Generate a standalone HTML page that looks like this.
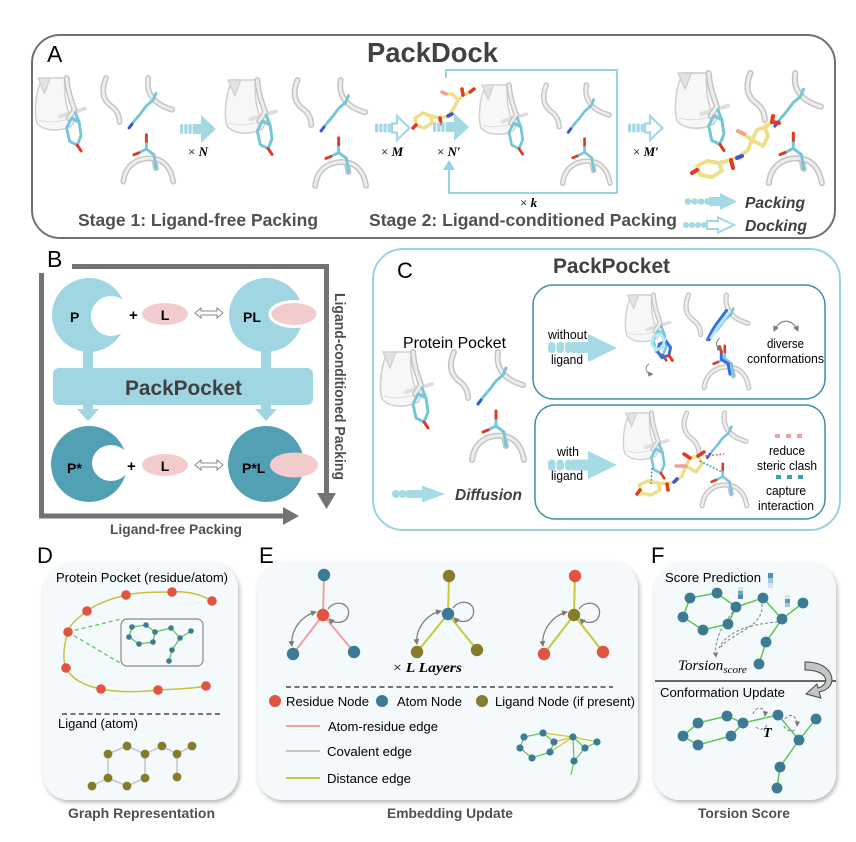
<!DOCTYPE html>
<html><head><meta charset="utf-8">
<style>
html,body{margin:0;padding:0;background:#fff;}
svg{display:block;}
text{font-family:"Liberation Sans",Arial,sans-serif;}
.b{font-weight:bold;}
.ser{font-family:"Liberation Serif",serif;}
</style></head><body>
<svg width="856" height="842" viewBox="0 0 856 842" xmlns="http://www.w3.org/2000/svg">
<defs>
 <filter id="sh" x="-10%" y="-10%" width="125%" height="125%"><feDropShadow dx="1.5" dy="2.5" stdDeviation="2" flood-color="#000" flood-opacity="0.28"/></filter>
 <marker id="ah" viewBox="0 0 6 6" refX="5" refY="3" markerWidth="5" markerHeight="5" orient="auto-start-reverse"><path d="M0,0 L6,3 L0,6 Z" fill="#7a7a7a"/></marker>
 <g id="tubes">
  <path d="M33,0 C34,14 38,24 41,33 L35,42"/>
  <path d="M74,0 C69,12 70,22 79,29 C86,34 88,40 88,46"/>
  <path d="M118,0 C115,18 126,28 143,33"/>
  <path d="M92,108 C94,90 108,82 124,84 C136,86 142,96 144,108"/>
  <path d="M124,84 L126,94"/>
 </g>
 <g id="pk">
  <path d="M8,0 C0,14 -1,36 2,47 C10,56 26,56 38,50 L42,42 C34,40 30,24 31,0 Z" fill="#f7f7f7" stroke="#d0d0d0" stroke-width="1.6"/>
  <path d="M3,0 L10,16 L16,0 Z" fill="#e2e2e2" stroke="#cdcdcd" stroke-width="1.2"/>
  <path d="M4,44 C14,47 26,46 36,42" fill="none" stroke="#dcdcdc" stroke-width="1"/>
  <path d="M26,40 L52,32" fill="none" stroke="#dedede" stroke-width="4" stroke-linecap="round"/>
  <use href="#tubes" fill="none" stroke="#c4c4c4" stroke-width="6" stroke-linecap="round"/>
  <use href="#tubes" fill="none" stroke="#ededed" stroke-width="3" stroke-linecap="round"/>
 </g>
 <g id="sc" fill="none" stroke-linecap="round" stroke-linejoin="round">
  <polygon points="38,42 46,46 48,60 44,70 36,66 33,52" stroke="#76c6d8" stroke-width="3"/>
  <line x1="46" y1="46" x2="42" y2="36" stroke="#76c6d8" stroke-width="3"/>
  <line x1="44" y1="70" x2="48" y2="76" stroke="#e03a22" stroke-width="3"/>
  <polyline points="98,52 104,44 110,37 116,29 123,23 126,16" stroke="#76c6d8" stroke-width="3"/>
  <line x1="98" y1="52" x2="101" y2="48" stroke="#3656e0" stroke-width="3"/>
  <polyline points="126,94 124,80 116,74 116,66" stroke="#76c6d8" stroke-width="3"/>
  <line x1="116" y1="66" x2="116" y2="59" stroke="#e03a22" stroke-width="3"/>
  <line x1="116" y1="74" x2="108" y2="78" stroke="#76c6d8" stroke-width="3"/>
  <line x1="108" y1="78" x2="103" y2="80" stroke="#e03a22" stroke-width="3"/>
 </g>
 <g id="pa" fill="#a3d8e4">
  <rect x="0" y="10" width="3.3" height="10" rx="1.6"/>
  <rect x="4.2" y="10" width="3.3" height="10" rx="1.6"/>
  <rect x="8.4" y="10" width="3.3" height="10" rx="1.6"/>
  <rect x="12.6" y="10" width="3.3" height="10" rx="1.6"/>
  <rect x="15.5" y="10" width="6.5" height="10"/>
  <path d="M21,1 L36,15 L21,29 Z"/>
 </g>
 <g id="da">
  <g fill="#a3d8e4">
  <rect x="0" y="10.5" width="3.3" height="9" rx="1.6"/>
  <rect x="4.2" y="10.5" width="3.3" height="9" rx="1.6"/>
  <rect x="8.4" y="10.5" width="3.3" height="9" rx="1.6"/>
  <rect x="12.6" y="10.5" width="3.3" height="9" rx="1.6"/>
  </g>
  <path d="M17,10.5 H22 V3 L34.5,15 L22,27 V19.5 H17 Z" fill="#fff" stroke="#a3d8e4" stroke-width="2.2"/>
 </g>
</defs>

<rect width="856" height="842" fill="#fff"/>

<!-- ================= PANEL A ================= -->
<rect x="32" y="35" width="803" height="203" rx="28" fill="#fff" stroke="#707070" stroke-width="2"/>
<text x="47" y="62" font-size="23">A</text>
<text x="367" y="62" font-size="28" class="b" fill="#414141" textLength="131" lengthAdjust="spacingAndGlyphs">PackDock</text>

<g transform="translate(35,78) scale(0.96)"><use href="#pk"/><use href="#sc"/></g>
<use href="#pa" transform="translate(180,114)"/>
<text x="188" y="156" font-size="13" class="ser">× <tspan font-weight="bold" font-style="italic">N</tspan></text>

<g transform="translate(225,80) scale(0.98)"><use href="#pk"/><use href="#sc"/></g>
<use href="#da" transform="translate(375,113)"/>
<text x="381" y="156" font-size="13" class="ser">× <tspan font-weight="bold" font-style="italic">M</tspan></text>

<!-- free ligand in A -->
<g fill="none" stroke-linecap="round" stroke-linejoin="round" stroke-width="3.5">
 <polygon points="415,118 423,113 431,116 432,123 424,128 416,125" stroke="#f0df8a"/>
 <polyline points="431,116 440,118 448,116 454,108 458,100 463,95" stroke="#f0df8a"/>
 <polyline points="458,100 452,94 446,94" stroke="#f0df8a"/>
 <line x1="463" y1="95" x2="470" y2="92" stroke="#f0df8a"/>
 <line x1="470" y1="92" x2="474" y2="89" stroke="#e03a22"/>
 <line x1="463" y1="95" x2="462" y2="89" stroke="#e03a22"/>
 <line x1="446" y1="94" x2="442" y2="92" stroke="#f2a090"/>
 <line x1="448" y1="116" x2="452" y2="114" stroke="#3656e0"/>
 <line x1="416" y1="125" x2="413" y2="128" stroke="#e03a22"/>
 <line x1="440" y1="118" x2="441" y2="124" stroke="#e03a22"/>
</g>

<use href="#pa" transform="translate(433,112)"/>
<text x="437" y="156" font-size="13" class="ser">× <tspan font-weight="bold" font-style="italic">N′</tspan></text>

<!-- feedback loop -->
<g fill="none" stroke="#9ad4e2" stroke-width="2">
 <polyline points="446,78 446,70 617,70 617,193 449,193 449,168"/>
</g>
<path d="M443,170 L449,160 L455,170 Z" fill="#9ad4e2"/>
<text x="520" y="207" font-size="13" class="ser">× <tspan font-weight="bold" font-style="italic">k</tspan></text>

<g transform="translate(479,85) scale(0.91)"><use href="#pk"/><use href="#sc"/></g>
<use href="#da" transform="translate(628,113)"/>
<text x="633" y="156" font-size="13" class="ser">× <tspan font-weight="bold" font-style="italic">M′</tspan></text>

<g transform="translate(675,73) scale(1.02)"><use href="#pk"/><use href="#sc"/></g>
<!-- docked ligand -->
<g fill="none" stroke-linecap="round" stroke-linejoin="round" stroke-width="4">
 <polygon points="697,166 707,161 719,163 722,171 712,177 700,175" stroke="#f0df8a"/>
 <polyline points="719,163 731,160 740,156 748,150 752,140 757,130 765,127 768,136 763,146 752,140" stroke="#f0df8a"/>
 <polyline points="765,127 772,122" stroke="#f0df8a"/>
 <line x1="772" y1="122" x2="779" y2="123" stroke="#e03a22"/>
 <line x1="772" y1="122" x2="773" y2="116" stroke="#e03a22"/>
 <polyline points="752,140 744,134" stroke="#f0df8a"/>
 <line x1="744" y1="134" x2="738" y2="131" stroke="#f2a090"/>
 <line x1="731" y1="160" x2="733" y2="168" stroke="#e03a22"/>
 <line x1="737" y1="158" x2="742" y2="156" stroke="#3656e0"/>
 <line x1="697" y1="170" x2="692" y2="173" stroke="#e03a22"/>
</g>

<!-- legend -->
<g fill="#a3d8e4">
 <circle cx="688" cy="201.5" r="3.3"/><circle cx="694.5" cy="201.5" r="3.3"/><circle cx="701" cy="201.5" r="3.3"/><circle cx="707.5" cy="201.5" r="3.3"/>
 <rect x="709" y="197" width="13" height="9"/>
 <path d="M720,193 L737,201.5 L720,210 Z"/>
 <circle cx="686" cy="225" r="3"/><circle cx="692" cy="225" r="3"/><circle cx="698" cy="225" r="3"/><circle cx="704" cy="225" r="3"/>
</g>
<path d="M707,221 H718 V217.5 L734,225 L718,232.5 V229 H707 Z" fill="#fff" stroke="#a3d8e4" stroke-width="2"/>
<text x="745" y="208" font-size="16" class="b" font-style="italic" fill="#404040" textLength="60" lengthAdjust="spacingAndGlyphs">Packing</text>
<text x="745" y="231" font-size="16" class="b" font-style="italic" fill="#404040" textLength="62" lengthAdjust="spacingAndGlyphs">Docking</text>

<text x="78" y="226" font-size="17.5" class="b" fill="#505050" textLength="240" lengthAdjust="spacingAndGlyphs">Stage 1: Ligand-free Packing</text>
<text x="369" y="226" font-size="17.5" class="b" fill="#505050" textLength="308" lengthAdjust="spacingAndGlyphs">Stage 2: Ligand-conditioned Packing</text>

<!-- ================= PANEL B ================= -->
<text x="47" y="267" font-size="23">B</text>
<g stroke="#767272" stroke-width="5" fill="none">
 <polyline points="72,266.5 326.5,266.5 326.5,495"/>
 <polyline points="41.5,273 41.5,516 285,516"/>
</g>
<path d="M317,493 L336,493 L326.5,509 Z" fill="#767272"/>
<path d="M283,507 L283,525 L299,516 Z" fill="#767272"/>
<text transform="translate(335,293) rotate(90)" font-size="14.5" class="b" fill="#505050" textLength="187" lengthAdjust="spacingAndGlyphs">Ligand-conditioned Packing</text>
<text x="110" y="534" font-size="14" class="b" fill="#505050" textLength="132" lengthAdjust="spacingAndGlyphs">Ligand-free Packing</text>

<!-- top row -->
<circle cx="89" cy="315" r="37" fill="#a0d6e2"/>
<circle cx="111" cy="316" r="20" fill="#fff"/>
<text x="70" y="322" font-size="14" class="b">P</text>
<text x="129" y="320" font-size="15" class="b">+</text>
<ellipse cx="165" cy="314" rx="23" ry="11" fill="#f2cccc"/>
<text x="165" y="320" font-size="14" class="b" text-anchor="middle">L</text>
<path d="M195,313 L201,308 L201,311 L217,311 L217,308 L223,313 L217,318 L217,315 L201,315 L201,318 Z" fill="#fff" stroke="#666" stroke-width="0.8"/>
<circle cx="266" cy="315" r="37" fill="#a0d6e2"/>
<ellipse cx="294" cy="314" rx="24" ry="12.5" fill="#f2cccc" stroke="#fff" stroke-width="3"/>
<text x="243" y="322" font-size="14" class="b">PL</text>

<!-- PackPocket bar -->
<rect x="83" y="349" width="10" height="20" fill="#a0d6e2"/>
<rect x="261" y="349" width="10" height="20" fill="#a0d6e2"/>
<rect x="53" y="368" width="260" height="37" rx="6" fill="#a0d6e2"/>
<text x="125" y="395" font-size="21" class="b" fill="#404040" textLength="117" lengthAdjust="spacingAndGlyphs">PackPocket</text>
<rect x="83" y="404" width="10" height="6" fill="#a0d6e2"/>
<rect x="261" y="404" width="10" height="6" fill="#a0d6e2"/>
<path d="M77,409 L99,409 L88,421 Z" fill="#a0d6e2"/>
<path d="M255,409 L277,409 L266,421 Z" fill="#a0d6e2"/>

<!-- bottom row -->
<circle cx="89" cy="464" r="38" fill="#52a0b4"/>
<ellipse cx="111" cy="463" rx="19" ry="18" fill="#fff"/>
<text x="67" y="473" font-size="14" class="b">P*</text>
<text x="127" y="471" font-size="15" class="b">+</text>
<ellipse cx="165" cy="465" rx="23" ry="11" fill="#f2cccc"/>
<text x="165" y="471" font-size="14" class="b" text-anchor="middle">L</text>
<path d="M195,465 L201,460 L201,463 L217,463 L217,460 L223,465 L217,470 L217,467 L201,467 L201,470 Z" fill="#fff" stroke="#666" stroke-width="0.8"/>
<circle cx="266" cy="464" r="38" fill="#52a0b4"/>
<ellipse cx="294" cy="465" rx="24" ry="12.5" fill="#f2cccc"/>
<text x="242" y="473" font-size="14" class="b">P*L</text>

<!-- ================= PANEL C ================= -->
<rect x="373" y="249" width="467" height="281" rx="30" fill="#fff" stroke="#9ad3e0" stroke-width="2"/>
<text x="397" y="278" font-size="22">C</text>
<text x="553" y="273" font-size="21" class="b" fill="#404040" textLength="117" lengthAdjust="spacingAndGlyphs">PackPocket</text>
<text x="403" y="348" font-size="16" textLength="103" lengthAdjust="spacingAndGlyphs">Protein Pocket</text>
<g transform="translate(380,352) scale(1.0)"><use href="#pk"/><use href="#sc"/></g>

<!-- diffusion legend -->
<g fill="#a6dbe6">
 <circle cx="396" cy="494" r="4"/><circle cx="402.5" cy="494" r="4"/><circle cx="409" cy="494" r="4"/>
 <rect x="410" y="490" width="14" height="8"/>
 <path d="M422,485.5 L445,494 L422,502.5 Z"/>
</g>
<text x="455" y="500" font-size="16" class="b" font-style="italic" fill="#404040" textLength="67" lengthAdjust="spacingAndGlyphs">Diffusion</text>

<!-- inner box 1 -->
<rect x="533" y="285" width="292" height="114" rx="20" fill="#fff" stroke="#3f8fa5" stroke-width="1.5"/>
<g fill="#a6dbe6">
 <rect x="548" y="342" width="7.5" height="11" rx="3.5"/><rect x="556.5" y="342" width="7.5" height="11" rx="3.5"/><rect x="565" y="342" width="7.5" height="11" rx="3.5"/>
 <rect x="572" y="342" width="18" height="11"/>
 <path d="M588,334 L617,348 L588,362 Z"/>
</g>
<text x="548" y="339" font-size="13" textLength="39" lengthAdjust="spacingAndGlyphs">without</text>
<text x="551" y="364" font-size="13" textLength="32" lengthAdjust="spacingAndGlyphs">ligand</text>
<g transform="translate(625,295) scale(0.86)">
 <use href="#pk"/><use href="#sc"/>
 <g fill="none" stroke-linecap="round" stroke-linejoin="round" stroke-width="3.5">
  <polygon points="40,57 48,54 53,61 51,70 43,73 38,66" stroke="#3a6ee0"/>
  <line x1="51" y1="70" x2="55" y2="76" stroke="#e03a22"/>
  <polygon points="33,48 41,45 46,52 44,61 36,64 31,57" stroke="#b0ecf6"/>
  <polyline points="96,52 101,42 106,34 112,26 118,18" stroke="#3a6ee0"/>
  <polyline points="100,50 106,40 112,32 118,24" stroke="#b0ecf6"/>
  <polyline points="122,92 120,80 112,75 112,66" stroke="#3a6ee0"/>
  <line x1="112" y1="66" x2="110" y2="60" stroke="#e03a22"/>
 </g>
 <path d="M28,80 C22,84 24,92 32,92" fill="none" stroke="#888" stroke-width="1.2" marker-end="url(#ah)"/>
 <path d="M110,50 C104,56 106,62 112,62" fill="none" stroke="#888" stroke-width="1.2" marker-end="url(#ah)"/>
</g>
<path d="M774,331 C780,318 792,318 798,331" fill="none" stroke="#888" stroke-width="1.2" marker-start="url(#ah)" marker-end="url(#ah)"/>
<text x="767" y="348" font-size="12.5" textLength="37" lengthAdjust="spacingAndGlyphs">diverse</text>
<text x="747" y="363" font-size="12.5" textLength="77" lengthAdjust="spacingAndGlyphs">conformations</text>

<!-- inner box 2 -->
<rect x="535" y="405" width="290" height="114" rx="20" fill="#fff" stroke="#3f8fa5" stroke-width="1.5"/>
<g fill="#a6dbe6">
 <rect x="548" y="459.5" width="7.5" height="11" rx="3.5"/><rect x="556.5" y="459.5" width="7.5" height="11" rx="3.5"/><rect x="565" y="459.5" width="7.5" height="11" rx="3.5"/>
 <rect x="572" y="459.5" width="18" height="11"/>
 <path d="M588,451 L617,465 L588,479 Z"/>
</g>
<text x="557" y="456" font-size="13" textLength="22" lengthAdjust="spacingAndGlyphs">with</text>
<text x="551" y="480" font-size="13" textLength="32" lengthAdjust="spacingAndGlyphs">ligand</text>
<g transform="translate(623,413) scale(0.86)"><use href="#pk"/><use href="#sc"/></g>
<g fill="none" stroke-linecap="round" stroke-linejoin="round" stroke-width="3.5">
 <polygon points="639,485 648,481 658,483 660,490 651,495 641,493" stroke="#f0df8a"/>
 <polyline points="658,483 667,484 674,482 682,476 686,466 690,458 698,456 702,464 696,472 686,466" stroke="#f0df8a"/>
 <line x1="690" y1="458" x2="684" y2="454" stroke="#e03a22"/>
 <line x1="698" y1="456" x2="704" y2="452" stroke="#e03a22"/>
 <line x1="686" y1="466" x2="676" y2="466" stroke="#f2a090"/>
 <line x1="674" y1="482" x2="677" y2="479" stroke="#3656e0"/>
 <line x1="667" y1="484" x2="668" y2="490" stroke="#e03a22"/>
 <line x1="640" y1="490" x2="637" y2="494" stroke="#e03a22"/>
</g>
<g fill="none" stroke-width="1.6" stroke-dasharray="1.8,1.8">
 <line x1="652" y1="468" x2="651" y2="484" stroke="#3a9fb3"/>
 <line x1="700" y1="461" x2="722" y2="472" stroke="#3a9fb3"/>
 <line x1="705" y1="456" x2="724" y2="454" stroke="#e06060"/>
</g>
<g fill="#f0a0a0"><rect x="775" y="434" width="5" height="4"/><rect x="786" y="434" width="5" height="4"/><rect x="797" y="434" width="5" height="4"/></g>
<text x="769" y="455" font-size="12.5" textLength="36" lengthAdjust="spacingAndGlyphs">reduce</text>
<text x="757" y="470" font-size="12.5" textLength="60" lengthAdjust="spacingAndGlyphs">steric clash</text>
<g fill="#3a9fb3"><rect x="776" y="475" width="5" height="4"/><rect x="787" y="475" width="5" height="4"/><rect x="798" y="475" width="5" height="4"/></g>
<text x="766" y="495" font-size="12.5" textLength="40" lengthAdjust="spacingAndGlyphs">capture</text>
<text x="758" y="510" font-size="12.5" textLength="56" lengthAdjust="spacingAndGlyphs">interaction</text>

<!-- ================= PANEL D ================= -->
<text x="37" y="563" font-size="22">D</text>
<rect x="43" y="563" width="195" height="237" rx="26" fill="#f4fafc" filter="url(#sh)"/>
<text x="56" y="582" font-size="13" textLength="172" lengthAdjust="spacingAndGlyphs">Protein Pocket (residue/atom)</text>
<path d="M212,601 C200,594 186,591 172,592 C156,592 140,592 126,595 C110,599 96,604 87,611 C78,618 70,624 68,632 C64,645 62,658 66,668 C72,680 86,686 101,689 C120,693 140,692 158,690 C175,689 192,689 206,686" fill="none" stroke="#c8c03a" stroke-width="1.5"/>
<g stroke="#5ac850" stroke-width="1.3" stroke-dasharray="4,3"><line x1="68" y1="632" x2="121" y2="619"/><line x1="68" y1="632" x2="120" y2="663"/></g>
<rect x="121" y="619" width="82" height="47" rx="6" fill="#f6f9f9" stroke="#8a8a8a" stroke-width="1.2"/>
<g fill="none" stroke="#5ac850" stroke-width="1.3">
 <polygon points="132,627 146,625 155,632 153,642 139,644 129,637"/>
 <polyline points="155,632 171,628 180,638 191,631"/>
 <polyline points="180,638 172,650 169,661"/>
</g>
<g fill="#3d7a94">
 <circle cx="132" cy="627" r="2.8"/><circle cx="146" cy="625" r="2.8"/><circle cx="155" cy="632" r="2.8"/><circle cx="153" cy="642" r="2.8"/><circle cx="139" cy="644" r="2.8"/><circle cx="129" cy="637" r="2.8"/>
 <circle cx="171" cy="628" r="2.8"/><circle cx="180" cy="638" r="2.8"/><circle cx="191" cy="631" r="2.8"/><circle cx="172" cy="650" r="2.8"/><circle cx="169" cy="661" r="2.8"/>
</g>
<g fill="#e05444">
 <circle cx="126" cy="595" r="4.8"/><circle cx="172" cy="592" r="4.8"/><circle cx="212" cy="601" r="4.8"/><circle cx="87" cy="611" r="4.8"/><circle cx="68" cy="632" r="4.8"/><circle cx="66" cy="668" r="4.8"/><circle cx="101" cy="689" r="4.8"/><circle cx="158" cy="690" r="4.8"/><circle cx="206" cy="686" r="4.8"/>
</g>
<line x1="62" y1="714" x2="222" y2="714" stroke="#222" stroke-width="1.2" stroke-dasharray="5,3.5"/>
<text x="58" y="728" font-size="13" textLength="80" lengthAdjust="spacingAndGlyphs">Ligand (atom)</text>
<g fill="none" stroke="#c4c4c4" stroke-width="1.5">
 <polygon points="127,746 145,754 145,778 127,786 108,778 108,754"/>
 <polyline points="145,754 162,746 177,754 192,746"/>
 <line x1="177" y1="754" x2="177" y2="777"/>
 <line x1="108" y1="778" x2="92" y2="786"/>
</g>
<g fill="#857d2a">
 <circle cx="127" cy="746" r="4.4"/><circle cx="145" cy="754" r="4.4"/><circle cx="145" cy="778" r="4.4"/><circle cx="127" cy="786" r="4.4"/><circle cx="108" cy="778" r="4.4"/><circle cx="108" cy="754" r="4.4"/>
 <circle cx="162" cy="746" r="4.4"/><circle cx="177" cy="754" r="4.4"/><circle cx="192" cy="746" r="4.4"/><circle cx="177" cy="777" r="4.4"/><circle cx="92" cy="786" r="4.4"/>
</g>
<text x="68" y="818" font-size="13.5" class="b" fill="#505050" textLength="147" lengthAdjust="spacingAndGlyphs">Graph Representation</text>

<!-- ================= PANEL E ================= -->
<text x="259" y="563" font-size="22">E</text>
<rect x="257" y="562" width="381" height="238" rx="26" fill="#f4fafc" filter="url(#sh)"/>
<!-- graph 1 -->
<g stroke="#f0a0a0" stroke-width="2"><line x1="324" y1="575" x2="323" y2="615"/><line x1="323" y1="615" x2="293" y2="654"/><line x1="323" y1="615" x2="354" y2="652"/></g>
<path d="M316,612 C300,616 290,632 292,646" fill="none" stroke="#7a7a7a" stroke-width="1.2" marker-start="url(#ah)" marker-end="url(#ah)"/>
<path d="M328,609 C336,598 352,604 348,616 C345,624 335,624 329,619" fill="none" stroke="#7a7a7a" stroke-width="1.2" marker-end="url(#ah)"/>
<circle cx="324" cy="575" r="6.2" fill="#3d7a94"/><circle cx="323" cy="615" r="6.2" fill="#e05444"/><circle cx="293" cy="654" r="6.2" fill="#3d7a94"/><circle cx="354" cy="652" r="6.2" fill="#3d7a94"/>
<!-- graph 2 -->
<g stroke="#c8c83a" stroke-width="2"><line x1="449" y1="576" x2="448" y2="614"/><line x1="448" y1="614" x2="417" y2="652"/><line x1="448" y1="614" x2="477" y2="650"/></g>
<path d="M441,611 C425,615 415,630 417,644" fill="none" stroke="#7a7a7a" stroke-width="1.2" marker-start="url(#ah)" marker-end="url(#ah)"/>
<path d="M453,608 C461,597 477,603 473,615 C470,623 460,623 454,618" fill="none" stroke="#7a7a7a" stroke-width="1.2" marker-end="url(#ah)"/>
<circle cx="449" cy="576" r="6.2" fill="#857d2a"/><circle cx="448" cy="614" r="6.2" fill="#3d7a94"/><circle cx="417" cy="652" r="6.2" fill="#857d2a"/><circle cx="477" cy="650" r="6.2" fill="#857d2a"/>
<!-- graph 3 -->
<g stroke="#c8c83a" stroke-width="2"><line x1="575" y1="576" x2="574" y2="615"/><line x1="574" y1="615" x2="544" y2="654"/><line x1="574" y1="615" x2="603" y2="652"/></g>
<path d="M567,612 C551,616 541,632 543,646" fill="none" stroke="#7a7a7a" stroke-width="1.2" marker-start="url(#ah)" marker-end="url(#ah)"/>
<path d="M579,609 C587,598 603,604 599,616 C596,624 586,624 580,619" fill="none" stroke="#7a7a7a" stroke-width="1.2" marker-end="url(#ah)"/>
<circle cx="575" cy="576" r="6.2" fill="#e05444"/><circle cx="574" cy="615" r="6.2" fill="#857d2a"/><circle cx="544" cy="654" r="6.2" fill="#e05444"/><circle cx="603" cy="652" r="6.2" fill="#e05444"/>
<text x="393" y="672" font-size="14" class="ser" textLength="69" lengthAdjust="spacingAndGlyphs">× <tspan font-weight="bold" font-style="italic">L Layers</tspan></text>
<line x1="286" y1="687" x2="613" y2="687" stroke="#222" stroke-width="1.2" stroke-dasharray="5,3.5"/>
<circle cx="275" cy="701" r="6" fill="#e05444"/>
<text x="286" y="706" font-size="13" textLength="83" lengthAdjust="spacingAndGlyphs">Residue Node</text>
<circle cx="382" cy="701" r="6" fill="#3d7a94"/>
<text x="397" y="706" font-size="13" textLength="65" lengthAdjust="spacingAndGlyphs">Atom Node</text>
<circle cx="482" cy="701" r="6" fill="#857d2a"/>
<text x="495" y="706" font-size="13" textLength="140" lengthAdjust="spacingAndGlyphs">Ligand Node (if present)</text>
<line x1="286" y1="726" x2="320" y2="726" stroke="#f0a0a0" stroke-width="2"/>
<text x="328" y="731" font-size="13" textLength="110" lengthAdjust="spacingAndGlyphs">Atom-residue edge</text>
<line x1="286" y1="751" x2="320" y2="751" stroke="#c4c4c4" stroke-width="2"/>
<text x="327" y="756" font-size="13" textLength="85" lengthAdjust="spacingAndGlyphs">Covalent edge</text>
<line x1="286" y1="778" x2="320" y2="778" stroke="#c8c83a" stroke-width="2"/>
<text x="327" y="783" font-size="13" textLength="84" lengthAdjust="spacingAndGlyphs">Distance edge</text>
<!-- small graph -->
<g fill="none" stroke-width="1.2">
 <polygon points="524,737 543,733 554,742 550,752 532,758 520,748" stroke="#5ac850"/>
 <line x1="543" y1="733" x2="573" y2="737" stroke="#c8c83a"/>
 <line x1="554" y1="742" x2="573" y2="737" stroke="#c8c83a"/>
 <line x1="573" y1="737" x2="597" y2="742" stroke="#c8c83a"/>
 <line x1="550" y1="752" x2="573" y2="737" stroke="#c8c83a"/>
 <line x1="573" y1="737" x2="585" y2="748" stroke="#5ac850"/>
 <line x1="585" y1="748" x2="597" y2="742" stroke="#5ac850"/>
 <line x1="573" y1="737" x2="574" y2="761" stroke="#5ac850"/>
 <polyline points="585,748 574,761 571,775" stroke="#5ac850"/>
</g>
<g fill="#3d7a94">
 <circle cx="524" cy="737" r="3.6"/><circle cx="543" cy="733" r="3.6"/><circle cx="554" cy="742" r="3.6"/><circle cx="573" cy="737" r="3.6"/><circle cx="597" cy="742" r="3.6"/><circle cx="585" cy="748" r="3.6"/><circle cx="574" cy="761" r="3.6"/><circle cx="550" cy="752" r="3.6"/><circle cx="532" cy="758" r="3.6"/><circle cx="520" cy="748" r="3.6"/>
</g>
<text x="387" y="818" font-size="13.5" class="b" fill="#505050" textLength="126" lengthAdjust="spacingAndGlyphs">Embedding Update</text>

<!-- ================= PANEL F ================= -->
<text x="651" y="563" font-size="22">F</text>
<rect x="654" y="563" width="182" height="237" rx="26" fill="#f4fafc" filter="url(#sh)"/>
<text x="665" y="582" font-size="13" textLength="96" lengthAdjust="spacingAndGlyphs">Score Prediction</text>
<!-- score bars -->
<rect x="768" y="573" width="5" height="5" fill="#4a8fb0"/><rect x="768" y="578" width="5" height="5" fill="#a0c8d8"/><rect x="768" y="583" width="5" height="5" fill="#d0e4ec"/>
<rect x="738" y="587" width="5" height="4" fill="#d0e4ec"/><rect x="738" y="591" width="5" height="4" fill="#6aa6c0"/><rect x="738" y="595" width="5" height="4" fill="#4a8fb0"/>
<rect x="785" y="595" width="5" height="4" fill="#d0e4ec"/><rect x="785" y="599" width="5" height="4" fill="#5a9ab6"/><rect x="785" y="603" width="5" height="4" fill="#a0c8d8"/>
<g fill="none" stroke="#5ac850" stroke-width="1.5">
 <polygon points="690,598 717,593 736,607 728,624 703,630 683,617"/>
 <polyline points="736,607 763,598 782,619 803,603"/>
 <polyline points="782,619 766,642 759,664"/>
</g>
<g fill="none" stroke="#8a8a8a" stroke-width="1.1" stroke-dasharray="3,2">
 <path d="M733,612 C722,625 714,640 716,657" marker-end="url(#ah)"/>
 <path d="M762,604 C764,628 732,632 720,648"/>
 <path d="M778,622 C752,624 728,630 719,648"/>
</g>
<g fill="#3d7a94">
 <circle cx="690" cy="598" r="5.4"/><circle cx="717" cy="593" r="5.4"/><circle cx="736" cy="607" r="5.4"/><circle cx="728" cy="624" r="5.4"/><circle cx="703" cy="630" r="5.4"/><circle cx="683" cy="617" r="5.4"/>
 <circle cx="763" cy="598" r="5.4"/><circle cx="782" cy="619" r="5.4"/><circle cx="803" cy="603" r="5.4"/><circle cx="766" cy="642" r="5.4"/><circle cx="759" cy="664" r="5.4"/>
</g>
<text x="678" y="670" font-size="15" class="ser" font-style="italic">Torsion<tspan font-size="11" dy="3">score</tspan></text>
<line x1="655" y1="681" x2="836" y2="681" stroke="#111" stroke-width="1.2"/>
<path d="M805,662 C834,661 841,688 819,692 L821,698 L806,694 L817,684 L818,688 C831,684 828,670 805,670 Z" fill="#c4c4c4" stroke="#444" stroke-width="1"/>
<text x="660" y="697" font-size="13" textLength="125" lengthAdjust="spacingAndGlyphs">Conformation Update</text>
<g fill="none" stroke="#5ac850" stroke-width="1.5">
 <polygon points="698,723 727,716 743,723 731,736 698,745 683,736"/>
 <polyline points="743,723 778,715 799,740 816,719"/>
 <polyline points="799,740 780,767 777,788"/>
</g>
<g fill="none" stroke="#8a8a8a" stroke-width="1.1" stroke-dasharray="3,2">
 <path d="M753,714 C756,705 766,707 765,716" marker-end="url(#ah)"/>
 <path d="M756,727 C760,731 766,729 767,724"/>
 <path d="M785,719 C790,712 798,716 797,726" marker-end="url(#ah)"/>
 <path d="M784,726 C786,731 792,732 795,730"/>
</g>
<g fill="#3d7a94">
 <circle cx="698" cy="723" r="5.4"/><circle cx="727" cy="716" r="5.4"/><circle cx="743" cy="723" r="5.4"/><circle cx="731" cy="736" r="5.4"/><circle cx="698" cy="745" r="5.4"/><circle cx="683" cy="736" r="5.4"/>
 <circle cx="778" cy="715" r="5.4"/><circle cx="816" cy="719" r="5.4"/><circle cx="799" cy="740" r="5.4"/><circle cx="780" cy="767" r="5.4"/><circle cx="777" cy="788" r="5.4"/>
</g>
<text x="763" y="737" font-size="14" class="ser" font-weight="bold" font-style="italic">T</text>
<text x="698" y="818" font-size="13.5" class="b" fill="#505050" textLength="92" lengthAdjust="spacingAndGlyphs">Torsion Score</text>
</svg>
</body></html>
